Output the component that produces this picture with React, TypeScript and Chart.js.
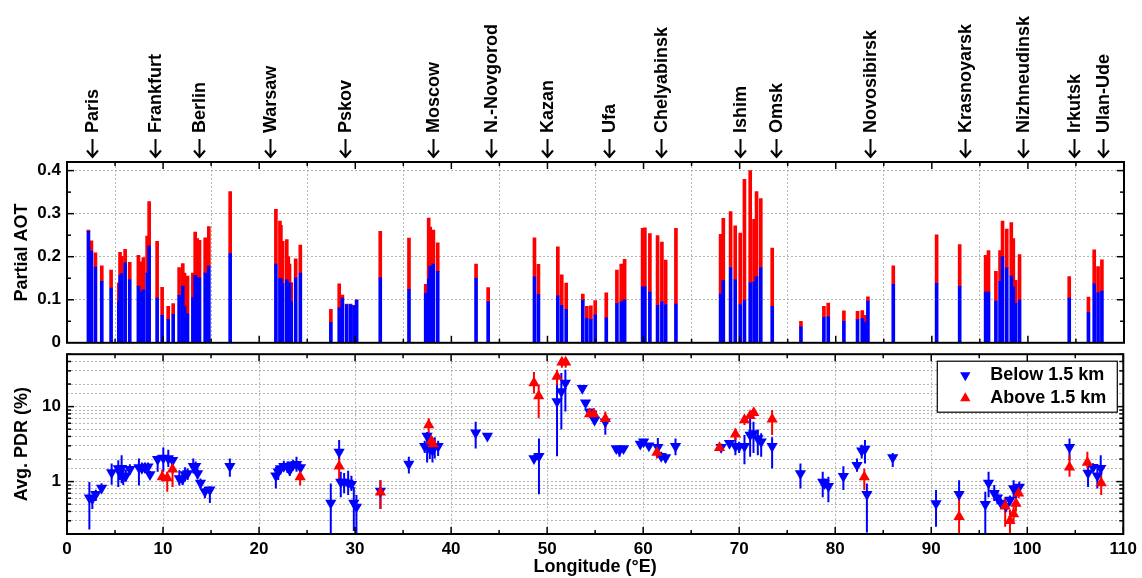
import React, { useEffect, useRef } from 'react';
import { Chart, registerables } from 'chart.js';

Chart.register(...registerables);

const FONT = "'Liberation Sans', Arial, Helvetica, sans-serif";
const BLUE = '#0000ff';
const RED = '#ff0000';

// City labels along the top
const cityNames = ['Paris', 'Frankfurt', 'Berlin', 'Warsaw', 'Pskov', 'Moscow', 'N.-Novgorod', 'Kazan', 'Ufa', 'Chelyabinsk', 'Ishim', 'Omsk', 'Novosibirsk', 'Krasnoyarsk', 'Nizhneudinsk', 'Irkutsk', 'Ulan-Ude'];
const cityLon = [2.6, 9.16, 13.74, 21.12, 28.93, 38.09, 44.12, 49.95, 56.4, 61.8, 70.03, 73.78, 83.56, 93.44, 99.48, 104.79, 107.8];

// Top panel: partial AOT (below 1.5 km = blue part, total = top of red part)
const barLon = [2.23, 2.54, 2.96, 3.62, 4.59, 5.39, 5.52, 5.7, 6.05, 6.53, 7.43, 7.78, 7.95, 8.34, 8.55, 9.38, 9.9, 10.53, 11.05, 11.67, 12.05, 12.23, 12.54, 13.1, 13.34, 13.55, 13.79, 14.38, 14.76, 16.98,
  21.74, 22.16, 22.26, 22.44, 22.87, 23.03, 23.16, 23.33, 23.8, 24.28, 27.46, 28.33, 28.66, 29.1, 29.5, 29.86, 30.14, 32.6, 35.59, 37.33, 37.64, 37.8, 38.13, 38.58, 42.57, 43.83,
  48.65, 49.06, 51.08, 51.49, 51.95, 53.68, 54.1, 54.52, 54.97, 56.12, 57.23, 57.68, 58.03, 59.9, 60.14, 60.66, 61.46, 61.91, 62.3, 63.37,
  68.02, 68.3, 69.06, 69.54, 70.06, 70.5, 71.1, 71.5, 71.76, 72.2, 73.39, 76.38, 78.77, 79.22, 80.85, 82.27, 82.76, 83.04, 83.35, 85.99,
  90.5, 92.9, 95.6, 95.9, 96.67, 97.1, 97.36, 97.8, 98.27, 98.48, 98.72, 99.13, 104.3, 106.3, 106.9, 107.3, 107.7];
const barBelow = [0.259, 0.213, 0.176, 0.143, 0.127, 0.096, 0.157, 0.161, 0.186, 0.147, 0.132, 0.118, 0.123, 0.162, 0.225, 0.104, 0.064, 0.054, 0.066, 0.11, 0.132, 0.085, 0.068, 0.105, 0.157, 0.151, 0.151, 0.162, 0.178, 0.207,
  0.183, 0.149, 0.149, 0.137, 0.147, 0.126, 0.139, 0.096, 0.151, 0.162, 0.047, 0.081, 0.104, 0.089, 0.089, 0.086, 0.099, 0.151, 0.124, 0.115, 0.148, 0.178, 0.183, 0.166, 0.15, 0.095,
  0.153, 0.112, 0.109, 0.087, 0.077, 0.099, 0.057, 0.054, 0.065, 0.058, 0.091, 0.095, 0.1, 0.13, 0.13, 0.118, 0.087, 0.095, 0.089, 0.09,
  0.113, 0.145, 0.175, 0.147, 0.089, 0.099, 0.14, 0.141, 0.154, 0.175, 0.085, 0.037, 0.059, 0.061, 0.05, 0.054, 0.057, 0.048, 0.097, 0.136,
  0.138, 0.131, 0.118, 0.118, 0.097, 0.143, 0.2, 0.174, 0.155, 0.13, 0.091, 0.1, 0.104, 0.071, 0.137, 0.116, 0.12];
const barTotal = [0.262, 0.237, 0.209, 0.179, 0.169, 0.139, 0.21, 0.201, 0.217, 0.187, 0.203, 0.188, 0.198, 0.248, 0.328, 0.236, 0.129, 0.085, 0.091, 0.175, 0.184, 0.162, 0.155, 0.162, 0.257, 0.242, 0.238, 0.244, 0.27, 0.351,
  0.31, 0.283, 0.273, 0.236, 0.24, 0.2, 0.183, 0.14, 0.195, 0.227, 0.078, 0.137, 0.111, 0.09, 0.09, 0.087, 0.1, 0.259, 0.243, 0.136, 0.29, 0.269, 0.262, 0.232, 0.183, 0.128,
  0.244, 0.182, 0.223, 0.158, 0.139, 0.113, 0.085, 0.086, 0.098, 0.116, 0.169, 0.183, 0.194, 0.266, 0.267, 0.254, 0.249, 0.234, 0.192, 0.266,
  0.252, 0.289, 0.305, 0.272, 0.255, 0.38, 0.4, 0.287, 0.351, 0.335, 0.22, 0.05, 0.085, 0.092, 0.074, 0.073, 0.075, 0.064, 0.107, 0.179,
  0.251, 0.228, 0.203, 0.214, 0.166, 0.214, 0.283, 0.264, 0.279, 0.242, 0.145, 0.205, 0.154, 0.106, 0.216, 0.177, 0.193];

// Bottom panel: average PDR (%), below 1.5 km
const belowLon = [2.33, 2.64, 3.0, 3.6, 4.65, 5.34, 5.51, 5.69, 5.86, 6.13, 6.55, 7.49, 7.8, 8.12, 8.43, 8.64, 9.44, 10.03, 10.55, 11.0, 11.7, 12.04, 12.3, 12.56, 13.15, 13.4, 13.6, 13.9, 14.36, 14.88, 16.96,
  21.75, 22.0, 22.23, 22.58, 22.96, 23.2, 23.55, 23.9, 24.31, 27.47, 28.34, 28.51, 28.86, 29.28, 29.62, 29.87, 30.14, 32.64, 35.6, 37.25, 37.5, 37.78, 38.06, 38.3, 38.65, 42.56, 43.78,
  48.63, 49.15, 51.03, 51.48, 51.9, 53.66, 54.0, 54.42, 54.66, 54.94, 56.06, 57.2, 57.54, 57.96, 59.7, 60.05, 60.6, 61.53, 61.88, 62.33, 63.37,
  68.12, 68.99, 69.61, 70.0, 70.55, 71.14, 71.49, 71.94, 72.29, 73.43, 76.38, 78.7, 78.87, 79.29, 80.85, 82.27, 82.76, 83.1, 83.3, 85.99,
  90.5, 92.9, 95.63, 95.97, 96.56, 96.9, 97.26, 97.78, 98.2, 98.58, 98.82, 99.17, 104.4, 106.33, 106.85, 107.3, 107.65];
const belowPdr = [0.61, 0.59, 0.68, 0.82, 1.32, 1.49, 1.31, 1.51, 1.15, 1.2, 1.46, 1.54, 1.51, 1.54, 1.58, 1.24, 1.99, 2.07, 2.03, 1.93, 1.1, 1.08, 1.24, 1.28, 1.6, 1.6, 1.28, 0.96, 0.74, 0.78, 1.6,
  1.2, 1.35, 1.49, 1.6, 1.58, 1.43, 1.68, 1.7, 1.54, 0.52, 2.49, 0.99, 0.99, 0.96, 0.92, 0.52, 0.46, 0.75, 1.71, 2.97, 4.05, 2.74, 2.62, 2.97, 2.97, 4.48, 4.05,
  2.03, 2.18, 11.7, 15.9, 20.6, 17.6, 11.3, 8.57, 8.0, 6.63, 6.3, 2.77, 2.62, 2.77, 3.17, 3.4, 3.0, 2.87, 2.18, 2.1, 2.97,
  2.86, 3.24, 2.97, 2.97, 2.97, 4.18, 4.39, 3.77, 3.4, 2.97, 1.28, 0.99, 0.94, 0.87, 1.18, 1.65, 2.57, 2.72, 0.68, 2.1,
  0.51, 0.68, 0.5, 0.96, 0.7, 0.61, 0.52, 0.47, 0.57, 0.81, 0.73, 0.85, 2.86, 1.3, 1.55, 1.2, 1.51];
const belowLo = [0.23, 0.43, 0.55, 0.72, 0.91, 0.85, 1.05, 0.95, 0.9, 1.0, 1.25, 0.89, 1.3, 1.3, 1.35, 1.1, 1.35, 1.35, 1.57, 1.28, 0.89, 0.9, 1.0, 1.05, 1.28, 1.35, 1.1, 0.82, 0.6, 0.52, 1.16,
  0.81, 1.05, 1.25, 1.4, 1.3, 1.2, 1.45, 1.35, 1.35, 0.2, 1.93, 0.62, 0.7, 0.66, 0.75, 0.22, 0.2, 0.43, 1.28, 2.4, 1.8, 2.0, 1.8, 2.03, 2.2, 2.77, 3.8,
  1.85, 0.68, 2.18, 4.97, 8.6, 16, 10.5, 8.0, 7.0, 5.8, 4.2, 2.5, 2.14, 2.5, 2.9, 3.1, 2.7, 2.14, 1.9, 1.8, 2.25,
  2.45, 2.9, 2.25, 2.4, 1.7, 2.14, 2.4, 2.25, 2.14, 1.5, 0.81, 0.62, 0.8, 0.53, 0.77, 1.35, 2.03, 1.74, 0.21, 1.57,
  0.25, 0.55, 0.2, 0.62, 0.55, 0.5, 0.45, 0.4, 0.5, 0.62, 0.6, 0.7, 1.93, 0.85, 1.35, 0.81, 1.28];
const belowHi = [0.99, 0.66, 0.78, 0.95, 1.74, 1.93, 1.6, 2.25, 1.4, 1.45, 1.7, 2.03, 1.8, 1.8, 1.8, 1.4, 2.25, 2.85, 2.65, 2.14, 1.42, 1.3, 1.55, 1.5, 2.03, 1.85, 1.5, 1.1, 0.85, 0.87, 2.03,
  1.57, 1.6, 1.75, 1.9, 1.85, 1.7, 1.95, 2.14, 1.75, 0.94, 3.58, 1.35, 1.3, 1.4, 1.2, 0.85, 0.66, 1.04, 2.14, 3.5, 4.6, 3.2, 3.0, 3.9, 3.5, 6.3, 4.3,
  2.3, 3.75, 20.6, 28, 31, 19, 12, 9, 8.5, 7.4, 7.0, 3.0, 2.9, 3.0, 3.4, 3.6, 3.2, 3.8, 2.5, 2.3, 3.77,
  3.2, 3.6, 3.9, 3.4, 4.18, 7.6, 6.3, 4.97, 4.4, 3.9, 1.74, 1.35, 1.1, 1.16, 1.6, 2.03, 3.1, 3.6, 0.94, 2.4,
  0.77, 1.04, 0.73, 1.35, 0.9, 0.75, 0.6, 0.55, 0.65, 1.04, 0.85, 1.0, 3.77, 1.74, 1.75, 1.57, 2.25];

// Bottom panel: average PDR (%), above 1.5 km
const aboveLon = [9.92, 10.44, 10.99, 24.28, 28.34, 32.64, 37.67, 37.95, 38.12, 48.63, 49.12, 51.03, 51.54, 51.93, 54.42, 54.87, 56.06, 61.43, 67.95, 69.61, 70.55, 71.14, 71.52, 73.43, 83.03, 92.9, 97.7, 98.2, 98.58, 98.82, 99.1, 104.4, 106.26, 107.7];
const abovePdr = [1.15, 1.12, 1.46, 1.15, 1.6, 0.72, 5.69, 3.47, 3.17, 20.6, 13.9, 25.2, 38.9, 38.9, 8.0, 8.0, 6.9, 2.45, 2.83, 4.27, 6.63, 7.58, 8.27, 6.76, 1.15, 0.34, 0.47, 0.3, 0.37, 0.51, 0.7, 1.55, 1.8, 0.96];
const aboveLo = [1.0, 0.73, 0.85, 0.89, 1.04, 0.43, 3.58, 3.0, 2.8, 15, 7.0, 19.5, 33, 33, 7.5, 7.5, 5.2, 2.03, 2.6, 3.58, 5.7, 7.0, 7.7, 4.18, 0.77, 0.2, 0.25, 0.2, 0.28, 0.4, 0.6, 1.16, 1.5, 0.66];
const aboveHi = [1.45, 1.35, 1.93, 1.35, 2.03, 1.04, 7.0, 3.9, 3.5, 29, 19.5, 31, 45, 45, 8.5, 8.5, 8.6, 2.77, 3.0, 5.1, 7.6, 8.2, 8.9, 9.0, 1.5, 0.62, 0.62, 0.42, 0.5, 0.6, 0.8, 2.25, 2.5, 1.28];

// Axis tick labels
const xTickValues = [0, 10, 20, 30, 40, 50, 60, 70, 80, 90, 100, 110];
const aotTickValues = [0, 0.1, 0.2, 0.3, 0.4];
const pdrLabelValues = [1, 10];
const pdrMinor = [0.2, 0.3, 0.4, 0.5, 0.6, 0.7, 0.8, 0.9, 2, 3, 4, 5, 6, 7, 8, 9, 20, 30, 40, 50];
const legendLabels = ['Below 1.5 km', 'Above 1.5 km'];

const X_MIN = 0, X_MAX = 110;
const LEFT_W = 67;
const RIGHT_PAD = 18;

function drawTri(ctx: CanvasRenderingContext2D, x: number, y: number, r: number, down: boolean, color: string) {
  const s = down ? -1 : 1;
  ctx.beginPath();
  ctx.moveTo(x, y - s * r);
  ctx.lineTo(x + r * 0.866, y + s * r * 0.5);
  ctx.lineTo(x - r * 0.866, y + s * r * 0.5);
  ctx.closePath();
  ctx.fillStyle = color;
  ctx.fill();
}

const frameTicksPlugin = {
  id: 'frameTicks',
  afterDatasetsDraw(chart: any, _args: any, opts: any) {
    const { ctx, chartArea: a, scales } = chart;
    const xs = scales.x, ys = scales.y;
    ctx.save();
    ctx.strokeStyle = '#000';
    ctx.lineWidth = 1.5;
    const seg = (x1: number, y1: number, x2: number, y2: number) => {
      ctx.beginPath(); ctx.moveTo(x1, y1); ctx.lineTo(x2, y2); ctx.stroke();
    };
    for (let v = X_MIN; v <= X_MAX; v += 5) {
      const px = xs.getPixelForValue(v);
      const len = v % 10 === 0 ? 7 : 4;
      seg(px, a.top, px, a.top + len);
      seg(px, a.bottom, px, a.bottom - len);
    }
    (opts.major || []).forEach((v: number) => {
      const py = ys.getPixelForValue(v);
      seg(a.left, py, a.left + 7, py);
      seg(a.right, py, a.right - 7, py);
    });
    (opts.minor || []).forEach((v: number) => {
      const py = ys.getPixelForValue(v);
      seg(a.left, py, a.left + 4, py);
      seg(a.right, py, a.right - 4, py);
    });
    ctx.lineWidth = 2;
    ctx.strokeRect(a.left, a.top, a.right - a.left, a.bottom - a.top);
    ctx.restore();
  },
};

const cityPlugin = {
  id: 'cities',
  afterDraw(chart: any) {
    const { ctx, scales } = chart;
    const xs = scales.x;
    ctx.save();
    ctx.fillStyle = '#000';
    ctx.strokeStyle = '#000';
    cityNames.forEach((name, i) => {
      const x = Math.round(xs.getPixelForValue(cityLon[i])) + 0.5;
      // arrow
      ctx.lineWidth = 2;
      ctx.beginPath();
      ctx.moveTo(x, 139);
      ctx.lineTo(x, 157);
      ctx.moveTo(x - 5.5, 150.5);
      ctx.lineTo(x, 157);
      ctx.lineTo(x + 5.5, 150.5);
      ctx.stroke();
      // rotated name
      ctx.save();
      ctx.translate(x, 133);
      ctx.rotate(-Math.PI / 2);
      ctx.font = `bold 18px ${FONT}`;
      ctx.textAlign = 'left';
      ctx.textBaseline = 'middle';
      ctx.fillText(name, 0, 1);
      ctx.restore();
    });
    ctx.restore();
  },
};

const errorBarPlugin = {
  id: 'errorBars',
  beforeDatasetsDraw(chart: any) {
    const { ctx, chartArea: a, scales } = chart;
    const xs = scales.x, ys = scales.y;
    ctx.save();
    ctx.beginPath();
    ctx.rect(a.left, a.top, a.right - a.left, a.bottom - a.top);
    ctx.clip();
    ctx.lineWidth = 2;
    const draw = (lon: number[], lo: number[], hi: number[], color: string) => {
      ctx.strokeStyle = color;
      lon.forEach((x, i) => {
        const px = xs.getPixelForValue(x);
        ctx.beginPath();
        ctx.moveTo(px, ys.getPixelForValue(lo[i]));
        ctx.lineTo(px, ys.getPixelForValue(hi[i]));
        ctx.stroke();
      });
    };
    draw(belowLon, belowLo, belowHi, BLUE);
    draw(aboveLon, aboveLo, aboveHi, RED);
    ctx.restore();
  },
};

const legendPlugin = {
  id: 'boxLegend',
  afterDraw(chart: any) {
    const { ctx, chartArea: a } = chart;
    const w = 180, h = 51;
    const x0 = a.right - 6 - w, y0 = a.top + 7;
    ctx.save();
    ctx.fillStyle = '#fff';
    ctx.fillRect(x0, y0, w, h);
    ctx.strokeStyle = '#000';
    ctx.lineWidth = 1.2;
    ctx.strokeRect(x0, y0, w, h);
    drawTri(ctx, x0 + 28, y0 + 14, 6, true, BLUE);
    drawTri(ctx, x0 + 28, y0 + 37, 6, false, RED);
    ctx.fillStyle = '#000';
    ctx.font = `bold 18px ${FONT}`;
    ctx.textAlign = 'left';
    ctx.textBaseline = 'middle';
    ctx.fillText(legendLabels[0], x0 + 53, y0 + 14);
    ctx.fillText(legendLabels[1], x0 + 53, y0 + 37);
    ctx.restore();
  },
};

const gridStyle = { color: '#b4b4b4', lineWidth: 1, drawTicks: false };
const borderStyle = { display: false, dash: [2, 2] };
const tickFont = { family: FONT, size: 17, weight: 'bold' as const };
const titleFont = { family: FONT, size: 18, weight: 'bold' as const };

export default function App() {
  const topRef = useRef<HTMLCanvasElement>(null);
  const botRef = useRef<HTMLCanvasElement>(null);

  useEffect(() => {
    if (!topRef.current || !botRef.current) return;

    const topChart = new Chart(topRef.current, {
      type: 'bar',
      data: {
        datasets: [
          {
            label: legendLabels[0],
            data: barLon.map((x, i) => ({ x, y: barBelow[i] })),
            backgroundColor: BLUE,
            borderWidth: 0,
            barThickness: 3,
            grouped: false,
          } as any,
          {
            label: legendLabels[1],
            data: barLon.map((x, i) => ({ x, y: [barBelow[i], barTotal[i]] })),
            backgroundColor: RED,
            borderWidth: 0,
            barThickness: 3,
            grouped: false,
          } as any,
        ],
      },
      options: {
        responsive: false,
        animation: false,
        layout: { padding: { top: 162, bottom: 0, left: 0, right: RIGHT_PAD } },
        plugins: {
          legend: { display: false },
          tooltip: { enabled: false },
          frameTicks: { major: [0.1, 0.2, 0.3, 0.4], minor: [0.05, 0.15, 0.25, 0.35] },
        } as any,
        scales: {
          x: {
            type: 'linear',
            min: X_MIN,
            max: X_MAX,
            offset: false,
            grid: gridStyle,
            border: borderStyle,
            ticks: { display: false, stepSize: 10 },
            afterFit: (s: any) => { s.height = 0; },
          },
          y: {
            type: 'linear',
            min: 0,
            max: 0.42,
            grid: gridStyle,
            border: borderStyle,
            ticks: {
              stepSize: 0.1,
              includeBounds: false,
              color: '#000',
              font: tickFont,
              padding: 6,
              callback: (v: any) => {
                const n = Number(v);
                const hit = aotTickValues.find((t) => Math.abs(t - n) < 1e-6);
                return hit === undefined ? '' : hit === 0 ? '0' : hit.toFixed(1);
              },
            },
            title: { display: true, text: 'Partial AOT', color: '#000', font: titleFont, padding: { top: 11, bottom: 0 } },
            afterFit: (s: any) => { s.width = LEFT_W; },
          },
        },
      } as any,
      plugins: [frameTicksPlugin, cityPlugin],
    });

    const botChart = new Chart(botRef.current, {
      type: 'scatter',
      data: {
        datasets: [
          {
            label: legendLabels[1],
            data: aboveLon.map((x, i) => ({ x, y: abovePdr[i] })),
            pointStyle: 'triangle',
            pointRadius: 6.5,
            pointRotation: 0,
            backgroundColor: RED,
            borderColor: RED,
            borderWidth: 0,
            order: 0,
          },
          {
            label: legendLabels[0],
            data: belowLon.map((x, i) => ({ x, y: belowPdr[i] })),
            pointStyle: 'triangle',
            pointRadius: 6.5,
            pointRotation: 180,
            backgroundColor: BLUE,
            borderColor: BLUE,
            borderWidth: 0,
            order: 1,
          },
        ],
      },
      options: {
        responsive: false,
        animation: false,
        layout: { padding: { top: 0, bottom: 0, left: 0, right: RIGHT_PAD } },
        plugins: {
          legend: { display: false },
          tooltip: { enabled: false },
          frameTicks: { major: pdrLabelValues, minor: pdrMinor },
        } as any,
        scales: {
          x: {
            type: 'linear',
            min: X_MIN,
            max: X_MAX,
            grid: gridStyle,
            border: borderStyle,
            ticks: {
              stepSize: 10,
              color: '#000',
              font: tickFont,
              padding: 5,
              maxRotation: 0,
              callback: (v: any) => (xTickValues.includes(Number(v)) ? String(v) : ''),
            },
            title: { display: true, text: 'Longitude (°E)', color: '#000', font: titleFont, padding: { top: -3, bottom: 0 } },
            afterFit: (s: any) => { s.height = 44; },
          },
          y: {
            type: 'logarithmic',
            min: 0.2,
            max: 50,
            grid: gridStyle,
            border: borderStyle,
            ticks: {
              autoSkip: false,
              color: '#000',
              font: tickFont,
              padding: 6,
              callback: (v: any) => {
                const n = Number(v);
                const hit = pdrLabelValues.find((t) => Math.abs(t - n) < 1e-6);
                return hit === undefined ? '' : String(hit);
              },
            },
            title: { display: true, text: 'Avg. PDR (%)', color: '#000', font: titleFont, padding: { top: 11, bottom: 0 } },
            afterFit: (s: any) => { s.width = LEFT_W; },
          },
        },
      } as any,
      plugins: [errorBarPlugin, frameTicksPlugin, legendPlugin],
    });

    return () => {
      topChart.destroy();
      botChart.destroy();
    };
  }, []);

  return (
    <div style={{ position: 'absolute', left: 0, top: 0, width: 1142, height: 578, background: '#fff', overflow: 'hidden' }}>
      <canvas ref={topRef} width={1142} height={359} style={{ position: 'absolute', left: 0, top: 0, width: 1142, height: 359 }} />
      <canvas ref={botRef} width={1142} height={240} style={{ position: 'absolute', left: 0, top: 338, width: 1142, height: 240 }} />
    </div>
  );
}
